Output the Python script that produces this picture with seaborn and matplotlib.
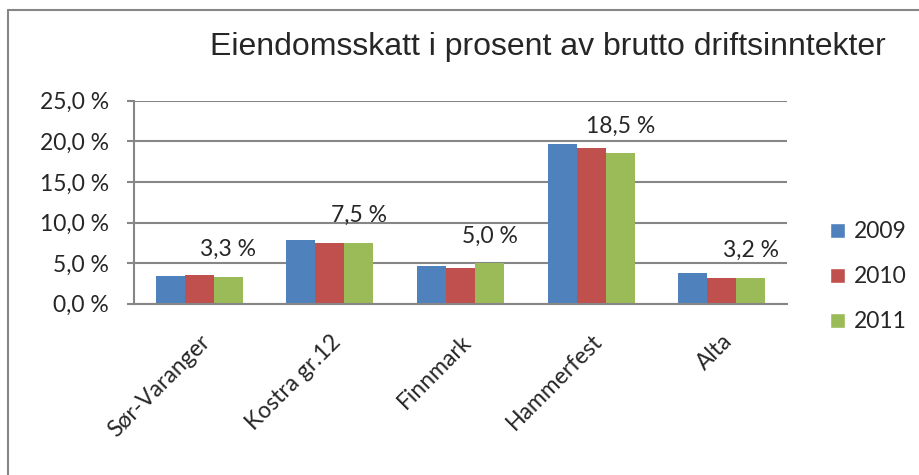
import pandas as pd
import numpy as np
import matplotlib.pyplot as plt
import seaborn as sns
from matplotlib.lines import Line2D
from matplotlib.patches import Patch

# values (percent)
regions = ['Sør-Varanger', 'Kostra gr.12', 'Finnmark', 'Hammerfest', 'Alta']
years = ['2009', '2010', '2011']
v2009 = [3.4, 7.8, 4.6, 19.7, 3.8]
v2010 = [3.5, 7.5, 4.4, 19.2, 3.2]
v2011 = [3.3, 7.5, 5.0, 18.5, 3.2]
colors = ['#4F81BD', '#C0504D', '#9BBB59']

df = pd.DataFrame({
    'region': regions * 3,
    'year': np.repeat(years, len(regions)),
    'value': v2009 + v2010 + v2011,
})

sns.set_style('white')
plt.rcParams['font.family'] = ['Lato', 'DejaVu Sans']
fs = 16.5

fig = plt.figure(figsize=(9.19, 4.75), dpi=100)
ax = fig.add_axes([0.1458, 0.3606, 0.7106, 0.4274])

sns.barplot(data=df, x='region', y='value', hue='year', palette=colors,
            saturation=1, width=0.667, linewidth=0, legend=False, ax=ax)

ax.set_xlim(-0.5, 4.5)
ax.set_ylim(0, 25)
ax.set_yticks(np.arange(0, 26, 5))
ax.set_yticklabels([f'{t:.1f} %'.replace('.', ',') for t in np.arange(0, 26, 5)], fontsize=fs)
ax.yaxis.grid(True, color='#868686', linewidth=1.5)
ax.set_axisbelow(True)
ax.set_xlabel('')
ax.set_ylabel('')

for s in ['top', 'right']:
    ax.spines[s].set_visible(False)
for s in ['left', 'bottom']:
    ax.spines[s].set_color('#868686')
    ax.spines[s].set_linewidth(1.5)
ax.tick_params(axis='y', left=True, length=5, width=1.5, color='#868686', pad=13)
ax.tick_params(axis='x', bottom=False, pad=16)
plt.setp(ax.get_xticklabels(), rotation=45, ha='right', rotation_mode='anchor', fontsize=fs)

# data labels on the 2011 series only
lbls = [f'{v:.1f} %'.replace('.', ',') for v in v2011]
ax.bar_label(ax.containers[2], labels=lbls, padding=12, fontsize=fs)

handles = [Patch(facecolor=c, label=y) for c, y in zip(colors, years)]
fig.legend(handles=handles, loc='center left', bbox_to_anchor=(0.881, 0.417),
           frameon=False, fontsize=fs, handlelength=0.65, handleheight=0.65,
           handletextpad=0.4, labelspacing=1.05)

fig.text(0.596, 0.901, 'Eiendomsskatt i prosent av brutto driftsinntekter',
         ha='center', va='center', fontsize=23, family='Liberation Sans')

# chart border (only left and top edges are in frame)
fig.add_artist(Line2D([8 / 919, 8 / 919], [0, 1 - 10 / 475], transform=fig.transFigure,
                      color='#868686', linewidth=1.5))
fig.add_artist(Line2D([8 / 919, 1], [1 - 10 / 475, 1 - 10 / 475], transform=fig.transFigure,
                      color='#868686', linewidth=1.5))

fig.savefig('out.png', dpi=100)
